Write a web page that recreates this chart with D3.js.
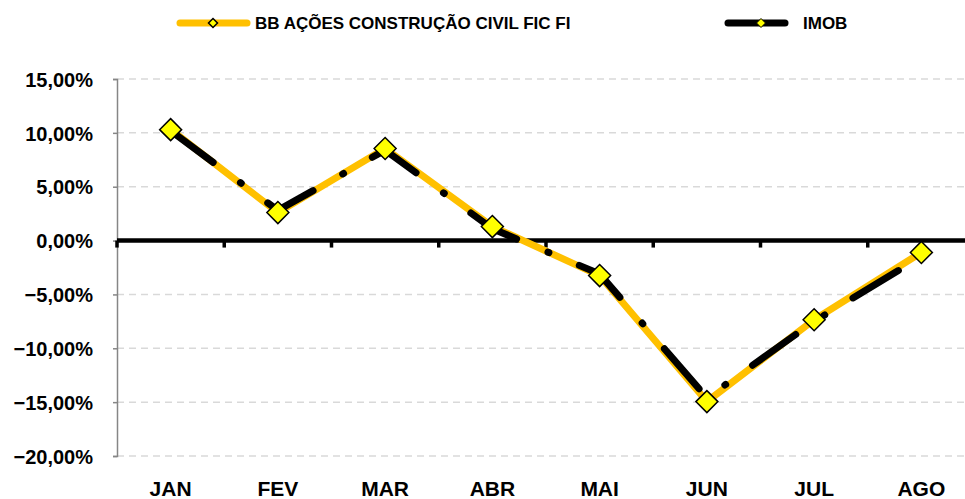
<!DOCTYPE html>
<html><head><meta charset="utf-8">
<script src="https://cdn.jsdelivr.net/npm/d3@7/dist/d3.min.js"></script>
<style>
html,body{margin:0;padding:0;background:#fff;overflow:hidden;}
text{font-family:"Liberation Sans",Arial,sans-serif;font-weight:bold;fill:#000;}
</style></head>
<body>
<script>
const months = ["JAN","FEV","MAR","ABR","MAI","JUN","JUL","AGO"];
const bbValues = [10.3, 2.6, 8.55, 1.3, -3.25, -14.95, -7.35, -1.1];
const imobValues = [10.2, 2.8, 8.4, 1.1, -3.1, -14.6, -7.5, -1.5];
const yTicks = [15, 10, 5, 0, -5, -10, -15, -20];
const seriesNames = ["BB AÇÕES CONSTRUÇÃO CIVIL FIC FI", "IMOB"];

const W = 965, H = 499;
const svg = d3.select("body").append("svg").attr("width", W).attr("height", H);

const x = d3.scaleBand().domain(months).range([117, 975]);
const y = d3.scaleLinear().domain([-20, 15]).range([456, 79]);
const fmt = v => d3.format(".2f")(v).replace(".", ",") + "%";

// gridlines
svg.append("g").selectAll("line").data(yTicks.filter(d => d !== 0)).join("line")
  .attr("x1", 117).attr("x2", W).attr("y1", d => y(d)).attr("y2", d => y(d))
  .attr("stroke", "#d9d9d9").attr("stroke-width", 1.5).attr("stroke-dasharray", "7,5");

// y axis
const yAxis = svg.append("g").attr("transform", "translate(117,0)")
  .call(d3.axisLeft(y).tickValues(yTicks).tickSize(4).tickFormat(fmt));
yAxis.select(".domain").attr("stroke", "#868686").attr("stroke-width", 1.5);
yAxis.selectAll(".tick line").attr("stroke", "#868686").attr("stroke-width", 1.5);
yAxis.selectAll(".tick text").attr("x", -24).attr("dy", "0.36em")
  .style("font-size", "20px").style("font-family", "Liberation Sans, Arial, sans-serif").style("font-weight", "bold").attr("fill", "#000");

// zero axis with ticks at band boundaries
const bounds = months.map(m => x(m));
svg.append("g").selectAll("line").data(bounds).join("line")
  .attr("x1", d => d).attr("x2", d => d).attr("y1", y(0)).attr("y2", y(0) + 7)
  .attr("stroke", "#000").attr("stroke-width", 3.5);
svg.append("line").attr("x1", 117).attr("x2", W).attr("y1", y(0)).attr("y2", y(0))
  .attr("stroke", "#000").attr("stroke-width", 4.5);

// x labels
svg.append("g").selectAll("text").data(months).join("text")
  .attr("x", d => x(d) + x.bandwidth() / 2).attr("y", 496)
  .attr("text-anchor", "middle").style("font-size", "21px").text(d => d);

const cx = d => x(d) + x.bandwidth() / 2;
const line = d3.line().x((d, i) => cx(months[i])).y(d => y(d));

svg.append("path").datum(bbValues).attr("d", line)
  .attr("fill", "none").attr("stroke", "#FFC000").attr("stroke-width", 7).attr("stroke-linejoin", "round");
svg.append("path").datum(imobValues).attr("d", line)
  .attr("fill", "none").attr("stroke", "#000").attr("stroke-width", 7)
  .attr("stroke-linecap", "round").attr("stroke-dasharray", "53,34,1,33");

const diamond = h => `M0,${-h}L${h},0L0,${h}L${-h},0Z`;
svg.append("g").selectAll("path").data(bbValues).join("path")
  .attr("transform", (d, i) => `translate(${cx(months[i])},${y(d)})`)
  .attr("d", diamond(11)).attr("fill", "#FFFF00").attr("stroke", "#000").attr("stroke-width", 1.5);

// legend
const lg = svg.append("g");
lg.append("line").attr("x1", 180).attr("x2", 247).attr("y1", 23).attr("y2", 23)
  .attr("stroke", "#FFC000").attr("stroke-width", 7).attr("stroke-linecap", "round");
lg.append("path").attr("transform", "translate(213,23)").attr("d", diamond(4.5))
  .attr("fill", "#FFFF00").attr("stroke", "#000").attr("stroke-width", 1.5);
lg.append("text").attr("x", 255).attr("y", 29).style("font-size", "17px").text(seriesNames[0]);

lg.append("line").attr("x1", 728).attr("x2", 785).attr("y1", 23).attr("y2", 23)
  .attr("stroke", "#000").attr("stroke-width", 7).attr("stroke-linecap", "round");
lg.append("path").attr("transform", "translate(761,23)").attr("d", diamond(4.5))
  .attr("fill", "#FFFF00").attr("stroke", "#000").attr("stroke-width", 1);
lg.append("text").attr("x", 803).attr("y", 29).style("font-size", "17px").text(seriesNames[1]);
</script>
</body></html>
